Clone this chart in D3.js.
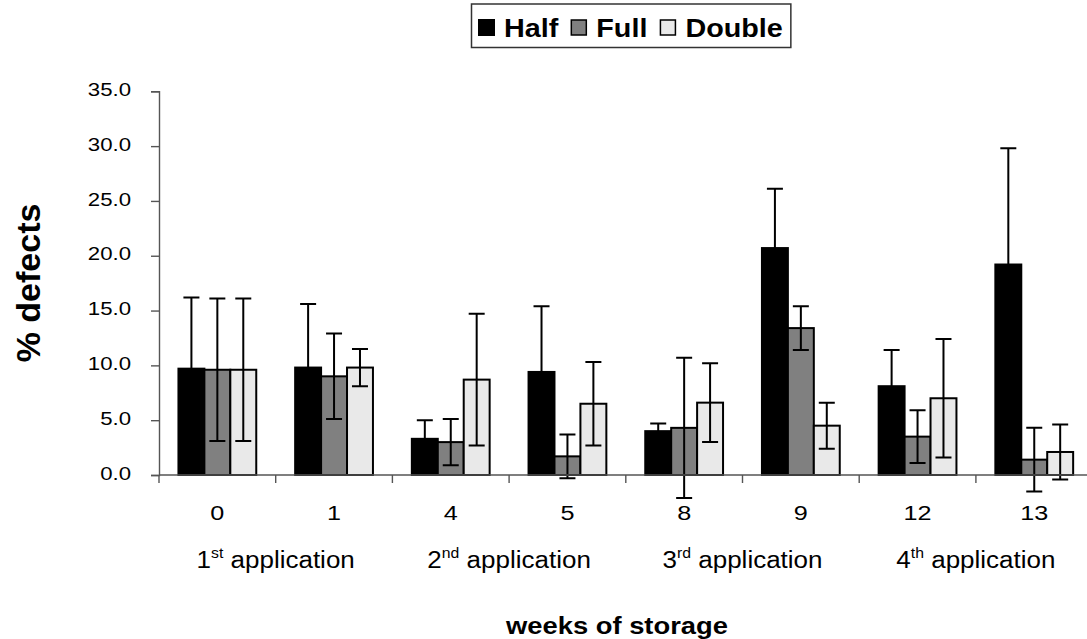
<!DOCTYPE html>
<html>
<head>
<meta charset="utf-8">
<style>
  html, body { margin: 0; padding: 0; background: #fff; }
  svg { display: block; font-family: "Liberation Sans", Arial, sans-serif; }
</style>
</head>
<body>
<svg id="chart" width="1087" height="639"></svg>
<script src="https://d3js.org/d3.v7.min.js"></script>
<script>
// weeks of storage (categories) and the application each pair belongs to
const weeks = ['0', '1', '4', '5', '8', '9', '12', '13'];
const applications = [['1', 'st'], ['2', 'nd'], ['3', 'rd'], ['4', 'th']];
const seriesNames = ['Half', 'Full', 'Double'];

// % defects, mean and error per week
const half = [9.7, 9.8, 3.3, 9.4, 4.0, 20.7, 8.1, 19.2];
const halfErr = [6.5, 5.8, 1.7, 6.0, 0.7, 5.4, 3.3, 10.6];
const full = [9.6, 9.0, 3.0, 1.7, 4.3, 13.4, 3.5, 1.4];
const fullErr = [6.5, 3.9, 2.1, 2.0, 6.4, 2.0, 2.4, 2.9];
const double = [9.6, 9.8, 8.7, 6.5, 6.6, 4.5, 7.0, 2.1];
const doubleErr = [6.5, 1.7, 6.0, 3.8, 3.6, 2.1, 5.4, 2.5];

const yTicks = [0, 5, 10, 15, 20, 25, 30, 35];

const colors = { Half: '#000000', Full: '#808080', Double: '#e9e9e9' };
const FONT_SX = 1.2; // text in the original is a bit wide

const $svg = d3.select('#chart');

const plot = { left: 159, right: 1092.6, top: 91.3, bottom: 475 };

const x0 = d3.scaleBand().domain(weeks).range([plot.left, plot.right]).padding(0);
const x1 = d3.scaleBand()
  .domain(seriesNames)
  .range([0, x0.bandwidth()])
  .paddingInner(0)
  .paddingOuter(0.75);
const y = d3.scaleLinear().domain([0, 35]).range([plot.bottom, plot.top]);

function buildRows() {
  const means = { Half: half, Full: full, Double: double };
  const errs = { Half: halfErr, Full: fullErr, Double: doubleErr };
  const rows = [];
  seriesNames.forEach(s => {
    weeks.forEach((w, i) => {
      rows.push({ series: s, week: w, value: means[s][i], err: errs[s][i] });
    });
  });
  return rows;
}

// text that is stretched sideways, anchored at (x, y)
function wideText(parent, x, yPos, sx) {
  return parent.append('g')
    .attr('transform', `translate(${x},${yPos}) scale(${sx},1)`)
    .append('text');
}

function drawAxes() {
  const $y = $svg.append('g')
    .attr('transform', `translate(${plot.left},0)`)
    .call(d3.axisLeft(y).tickValues(yTicks).tickSize(8).tickPadding(0).tickFormat(d3.format('.1f')));
  $y.select('.domain').attr('stroke', '#555').attr('stroke-width', 1.4);
  $y.selectAll('.tick line').attr('stroke', '#555').attr('stroke-width', 1.4);
  $y.selectAll('.tick text')
    .attr('x', -28 / FONT_SX)
    .attr('dy', '0.22em')
    .attr('transform', `scale(${FONT_SX},1)`)
    .attr('font-size', 18.5)
    .attr('fill', '#000')
    .attr('font-family', '"Liberation Sans", Arial, sans-serif');

  // category axis: line plus tick marks at group boundaries
  const $x = $svg.append('g');
  $x.append('line')
    .attr('x1', plot.left).attr('x2', plot.right)
    .attr('y1', y(0)).attr('y2', y(0))
    .attr('stroke', '#555').attr('stroke-width', 1.4);
  const bounds = weeks.map(w => x0(w)).concat([x0.range()[1]]);
  $x.selectAll('.xtick')
    .data(bounds)
    .join('line')
    .attr('class', 'xtick')
    .attr('x1', d => d).attr('x2', d => d)
    .attr('y1', y(0)).attr('y2', y(0) + 8)
    .attr('stroke', '#555').attr('stroke-width', 1.4);

  weeks.forEach(w => {
    wideText($x, x0(w) + x0.bandwidth() / 2, 520, FONT_SX)
      .attr('text-anchor', 'middle')
      .attr('font-size', 21)
      .text(w);
  });

  applications.forEach((a, i) => {
    const cx = x0(weeks[i * 2 + 1]);
    const t = wideText($x, cx, 568, 1.13)
      .attr('text-anchor', 'middle')
      .attr('font-size', 23);
    t.append('tspan').text(a[0]);
    t.append('tspan').attr('font-size', 14).attr('dy', -10).text(a[1]);
    t.append('tspan').attr('dy', 10).text(' application');
  });

  wideText($svg, 617, 634, 1.14)
    .attr('text-anchor', 'middle')
    .attr('font-size', 24)
    .attr('font-weight', 'bold')
    .text('weeks of storage');

  $svg.append('text')
    .attr('transform', 'translate(40,283) rotate(-90)')
    .attr('text-anchor', 'middle')
    .attr('font-size', 34)
    .attr('font-weight', 'bold')
    .text('% defects');
}

function drawBars(rows) {
  $svg.append('g')
    .selectAll('rect')
    .data(rows)
    .join('rect')
    .attr('x', d => x0(d.week) + x1(d.series))
    .attr('y', d => y(d.value))
    .attr('width', x1.bandwidth())
    .attr('height', d => y(0) - y(d.value))
    .attr('fill', d => colors[d.series])
    .attr('stroke', '#000')
    .attr('stroke-width', 2);
}

function drawErrors(rows) {
  const cap = 8;
  $svg.append('g')
    .selectAll('path')
    .data(rows)
    .join('path')
    .attr('d', d => {
      const cx = x0(d.week) + x1(d.series) + x1.bandwidth() / 2;
      const hi = y(d.value + d.err);
      const lo = y(d.value - d.err);
      return `M${cx},${hi}V${lo}M${cx - cap},${hi}H${cx + cap}M${cx - cap},${lo}H${cx + cap}`;
    })
    .attr('fill', 'none')
    .attr('stroke', '#000')
    .attr('stroke-width', 2);
}

function drawLegend() {
  const $leg = $svg.append('g');
  const $box = $leg.append('rect')
    .attr('x', 471.5).attr('y', 4)
    .attr('width', 310).attr('height', 43.5)
    .attr('fill', '#fff')
    .attr('stroke', '#333')
    .attr('stroke-width', 1.5);

  let cx = 478;
  seriesNames.forEach(s => {
    const size = s === 'Half' ? 17 : 15;
    $leg.append('rect')
      .attr('x', cx + (17 - size) / 2).attr('y', 19 + (17 - size) / 2)
      .attr('width', size).attr('height', size)
      .attr('fill', colors[s])
      .attr('stroke', '#000')
      .attr('stroke-width', s === 'Half' ? 0 : 1.5);
    cx += 26;
    const t = wideText($leg, cx, 36.5, 1.15)
      .attr('font-size', 25)
      .attr('font-weight', 'bold')
      .text(s);
    cx += t.node().getComputedTextLength() * 1.15 + 12;
  });
  $box.attr('width', cx - 471.5 - 4);
}

function init() {
  const rows = buildRows();
  drawBars(rows);
  drawErrors(rows);
  drawAxes();
  drawLegend();
}

init();
</script>
</body>
</html>
